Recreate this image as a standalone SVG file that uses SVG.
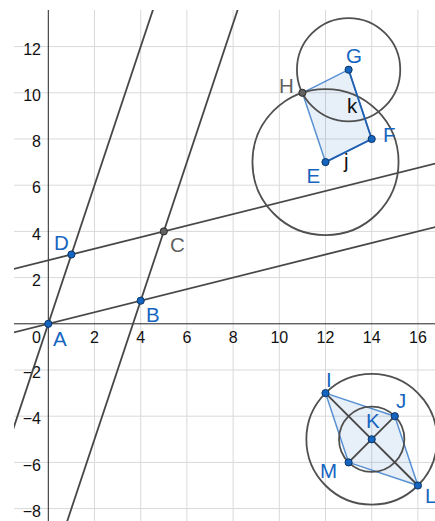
<svg xmlns="http://www.w3.org/2000/svg" width="435" height="521" viewBox="0 0 435 521">
<style>
.grid line{stroke:#d9d9d9;stroke-width:1}
.axis{stroke:#222;stroke-width:1}
.tick{font-family:"Liberation Sans",Arial,sans-serif;font-size:16px;fill:#111}
.tx{text-anchor:middle}
.ty{text-anchor:end}
.ln{stroke:#474747;stroke-width:1.8;fill:none}
.circ{stroke:#505050;stroke-width:1.8;fill:none}
.poly{fill:#1565c0;fill-opacity:0.1;stroke:#1565c0;stroke-opacity:0.7;stroke-width:1.5;stroke-linejoin:round}
.seg{stroke:#2160b0;stroke-width:1.8}
.pt{fill:#1565c0;stroke:#0b3565;stroke-width:1}
.ptg{fill:#616161;stroke:#2b2b2b;stroke-width:1}
.lb{font-family:"Liberation Sans",Arial,sans-serif;font-size:20.5px;fill:#1565c0}
.lbg{font-family:"Liberation Sans",Arial,sans-serif;font-size:20.5px;fill:#616161}
.lbk{font-family:"Liberation Sans",Arial,sans-serif;font-size:20.5px;fill:#111}
</style>
<defs>
<clipPath id="view"><rect x="14" y="10" width="421" height="511"/></clipPath>
</defs>
<rect width="435" height="521" fill="#fff"/>
<g clip-path="url(#view)">
<g class="grid" id="grid">
<line x1="94.5" y1="10" x2="94.5" y2="521"/>
<line x1="140.7" y1="10" x2="140.7" y2="521"/>
<line x1="186.9" y1="10" x2="186.9" y2="521"/>
<line x1="233.1" y1="10" x2="233.1" y2="521"/>
<line x1="279.3" y1="10" x2="279.3" y2="521"/>
<line x1="325.5" y1="10" x2="325.5" y2="521"/>
<line x1="371.7" y1="10" x2="371.7" y2="521"/>
<line x1="417.9" y1="10" x2="417.9" y2="521"/>
<line x1="14" y1="46.6" x2="435" y2="46.6"/>
<line x1="14" y1="92.8" x2="435" y2="92.8"/>
<line x1="14" y1="139" x2="435" y2="139"/>
<line x1="14" y1="185.2" x2="435" y2="185.2"/>
<line x1="14" y1="231.4" x2="435" y2="231.4"/>
<line x1="14" y1="277.6" x2="435" y2="277.6"/>
<line x1="14" y1="370" x2="435" y2="370"/>
<line x1="14" y1="416.2" x2="435" y2="416.2"/>
<line x1="14" y1="462.4" x2="435" y2="462.4"/>
<line x1="14" y1="508.6" x2="435" y2="508.6"/>
</g>
<g id="axes">
<line class="axis" x1="14" y1="323.8" x2="435" y2="323.8"/>
<line class="axis" x1="48.3" y1="10" x2="48.3" y2="521"/>
<g class="tick tx">
<text x="94.5" y="343.3">2</text>
<text x="140.7" y="343.3">4</text>
<text x="186.9" y="343.3">6</text>
<text x="233.1" y="343.3">8</text>
<text x="279.3" y="343.3">10</text>
<text x="325.5" y="343.3">12</text>
<text x="371.7" y="343.3">14</text>
<text x="417.9" y="343.3">16</text>
</g>
<g class="tick ty">
<text x="41" y="343.3">0</text>
<text x="41" y="54.8">12</text>
<text x="41" y="101">10</text>
<text x="41" y="147.2">8</text>
<text x="41" y="193.4">6</text>
<text x="41" y="239.6">4</text>
<text x="41" y="285.8">2</text>
<text x="41" y="378.2">−2</text>
<text x="41" y="424.4">−4</text>
<text x="41" y="470.6">−6</text>
<text x="41" y="516.8">−8</text>
</g>
</g>
<g id="polygons">
<polygon id="poly1" class="poly" points="325.5,162.1 371.7,139 348.6,69.7 302.4,92.8"/>
<polygon id="poly2" class="poly" points="325.5,393.1 394.8,416.2 417.9,485.5 348.6,462.4"/>
</g>
<g id="connectors">
<line id="lineAD" class="ln" x1="-28.7" y1="554.8" x2="163.8" y2="-22.7"/>
<line id="lineBC" class="ln" x1="56" y1="554.8" x2="248.5" y2="-22.7"/>
<line id="lineAB" class="ln" x1="-21" y1="341.1" x2="464.1" y2="219.85"/>
<line id="lineDC" class="ln" x1="-21" y1="277.6" x2="464.1" y2="156.3"/>
<circle id="circE" class="circ" cx="325.5" cy="162.1" r="73.05"/>
<circle id="circG" class="circ" cx="348.6" cy="69.7" r="51.65"/>
<circle id="circK1" class="circ" cx="371.7" cy="439.3" r="65.34"/>
<circle id="circK2" class="circ" cx="371.7" cy="439.3" r="32.67"/>
<line id="segIL" class="ln" x1="325.5" y1="393.1" x2="417.9" y2="485.5"/>
<line id="segJM" class="ln" x1="394.8" y1="416.2" x2="348.6" y2="462.4"/>
<line id="seg-j" class="seg" x1="325.5" y1="162.1" x2="371.7" y2="139"/>
<line id="seg-k" class="seg" x1="371.7" y1="139" x2="348.6" y2="69.7"/>
</g>
<g id="labels-seg">
<text class="lbk" x="344" y="168">j</text>
<text class="lbk" x="347" y="113">k</text>
</g>
<g id="A"><circle class="pt" cx="48.3" cy="323.8" r="3.6"/><text class="lb" x="53" y="345.5">A</text></g>
<g id="B"><circle class="pt" cx="140.7" cy="300.7" r="3.6"/><text class="lb" x="146" y="322">B</text></g>
<g id="C"><circle class="ptg" cx="163.8" cy="231.4" r="3.6"/><text class="lbg" x="170" y="252">C</text></g>
<g id="D"><circle class="pt" cx="71.4" cy="254.5" r="3.6"/><text class="lb" x="54" y="250">D</text></g>
<g id="E"><circle class="pt" cx="325.5" cy="162.1" r="3.6"/><text class="lb" x="306.5" y="182.5">E</text></g>
<g id="F"><circle class="pt" cx="371.7" cy="139" r="3.6"/><text class="lb" x="383" y="141.5">F</text></g>
<g id="G"><circle class="pt" cx="348.6" cy="69.7" r="3.6"/><text class="lb" x="346" y="63">G</text></g>
<g id="H"><circle class="ptg" cx="302.4" cy="92.8" r="3.6"/><text class="lbg" x="279" y="93">H</text></g>
<g id="I"><circle class="pt" cx="325.5" cy="393.1" r="3.6"/><text class="lb" x="326" y="387">I</text></g>
<g id="J"><circle class="pt" cx="394.8" cy="416.2" r="3.6"/><text class="lb" x="396" y="408">J</text></g>
<g id="K"><circle class="pt" cx="371.7" cy="439.3" r="3.6"/><text class="lb" x="366" y="428">K</text></g>
<g id="L"><circle class="pt" cx="417.9" cy="485.5" r="3.6"/><text class="lb" x="425" y="503">L</text></g>
<g id="M"><circle class="pt" cx="348.6" cy="462.4" r="3.6"/><text class="lb" x="320" y="478">M</text></g>
</g>
</svg>
